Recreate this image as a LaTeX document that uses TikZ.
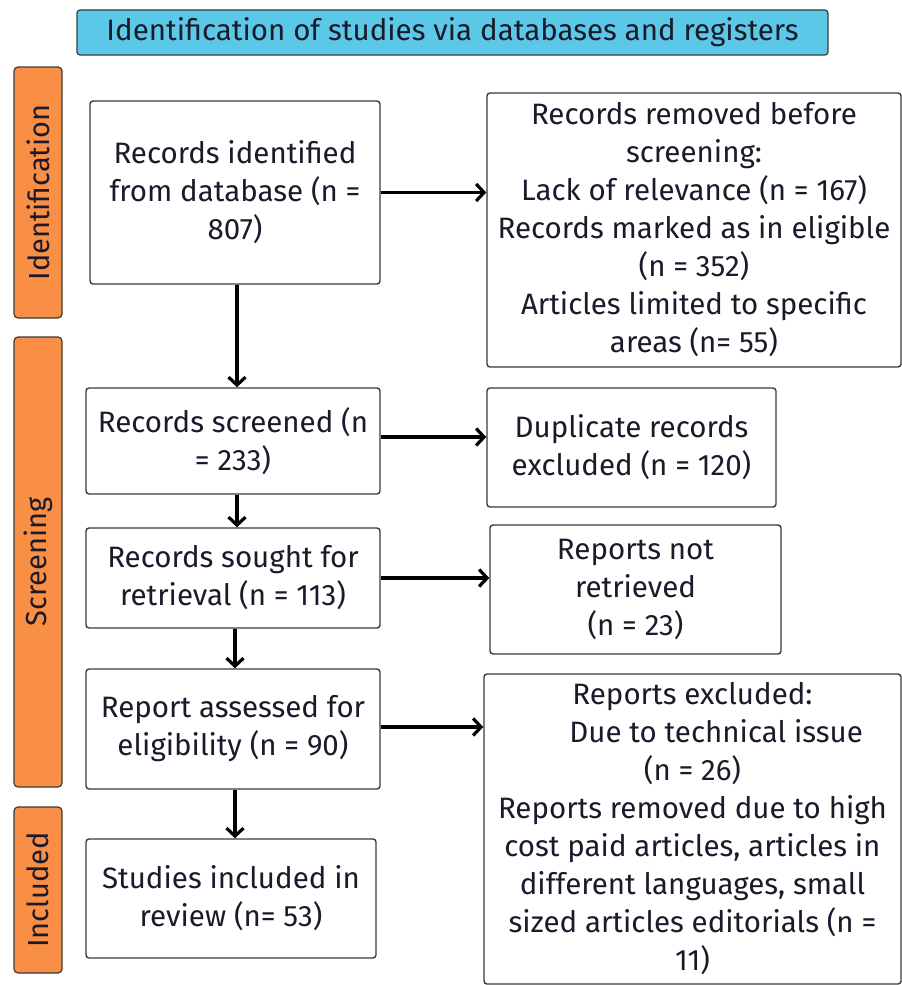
\documentclass[tikz,border=0pt]{standalone}
\usepackage{fontspec}
\setmainfont{Fira Sans}
\usetikzlibrary{arrows.meta}
\definecolor{hdr}{HTML}{5BC8E8}
\definecolor{side}{HTML}{F98E45}
\definecolor{txt}{HTML}{1A1A2A}
\definecolor{bord}{HTML}{3A3A3A}
\begin{document}
\begin{tikzpicture}[x=1pt,y=-1pt,
  box/.style={draw=bord, line width=1.4pt, rounded corners=3pt, fill=white, align=center,
    text=txt, font=\fontsize{29.5}{38}\selectfont, inner sep=0pt},
  sidebox/.style={draw=bord, line width=1.2pt, rounded corners=4pt, fill=side,
    minimum height=48pt, text=txt, font=\fontsize{29}{32}\selectfont, inner sep=0pt},
  arr/.style={line width=3.6pt, -{Straight Barb[length=8pt,width=17pt,line width=3.2pt]}}]
\useasboundingbox (0,0) rectangle (902,985);
% header
\node[draw=bord, line width=1.2pt, rounded corners=3pt, fill=hdr, minimum width=751pt,
  minimum height=45pt, text=txt, font=\fontsize{29.5}{32}\selectfont, inner sep=0pt]
  (hdr) at (452.5,32.5) {Identification of studies via databases and registers};
% side labels
\node[sidebox, minimum width=251pt, rotate=90] (sid) at (38,192.5) {Identification};
\node[sidebox, minimum width=450pt, rotate=90] (sscr) at (38,562) {Screening};
\node[sidebox, minimum width=166pt, rotate=90] (sinc) at (38,890) {Included};
% left column
\node[box, minimum width=290pt, minimum height=183pt] (idf) at (235,192.5)
  {Records identified\\ from database (n =\\ 807)};
\node[box, minimum width=294pt, minimum height=106pt] (scr) at (233,441)
  {Records screened (n\\ = 233)};
\node[box, minimum width=294pt, minimum height=100pt] (sgt) at (233,578)
  {Records sought for\\ retrieval (n = 113)};
\node[box, minimum width=294pt, minimum height=120pt] (ass) at (233,729)
  {Report assessed for\\ eligibility (n = 90)};
\node[box, minimum width=290pt, minimum height=119pt] (inc) at (231,898.5)
  {Studies included in\\ review (n= 53)};
% right column
\node[box, minimum width=414pt, minimum height=274pt] (rem) at (694,230)
  {Records removed before\\ screening:\\ Lack of relevance (n = 167)\\ Records marked as in eligible\\ (n = 352)\\ Articles limited to specific\\ areas (n= 55)};
\node[box, minimum width=289pt, minimum height=119pt] (dup) at (631.5,447.5)
  {Duplicate records\\ excluded (n = 120)};
\node[box, minimum width=291pt, minimum height=129pt] (nrt) at (635.5,589.5)
  {Reports not\\ retrieved\\ (n = 23)};
\node[box, minimum width=417pt, minimum height=310pt] (exc) at (692.5,829)
  {Reports excluded:\\ \hspace*{1.6em}Due to technical issue\\ (n = 26)\\ Reports removed due to high\\ cost paid articles, articles in\\ different languages, small\\ sized articles editorials (n =\\ 11)};
% connectors
\draw[arr] ([xshift=2pt]idf.south) -- ([xshift=2pt]idf.south |- scr.north);
\draw[arr] ([xshift=4pt]scr.south) -- ([xshift=4pt]scr.south |- sgt.north);
\draw[arr] ([xshift=2pt]sgt.south) -- ([xshift=2pt]sgt.south |- ass.north);
\draw[arr] ([xshift=2pt]ass.south) -- ([xshift=2pt]ass.south |- inc.north);
\draw[arr] (idf.east) -- (idf.east -| rem.west);
\draw[arr] ([yshift=4pt]scr.east) -- ([yshift=4pt]scr.east -| dup.west);
\draw[arr] (sgt.east) -- (sgt.east -| nrt.west);
\draw[arr] ([yshift=2pt]ass.east) -- ([yshift=2pt]ass.east -| exc.west);
\end{tikzpicture}
\end{document}
